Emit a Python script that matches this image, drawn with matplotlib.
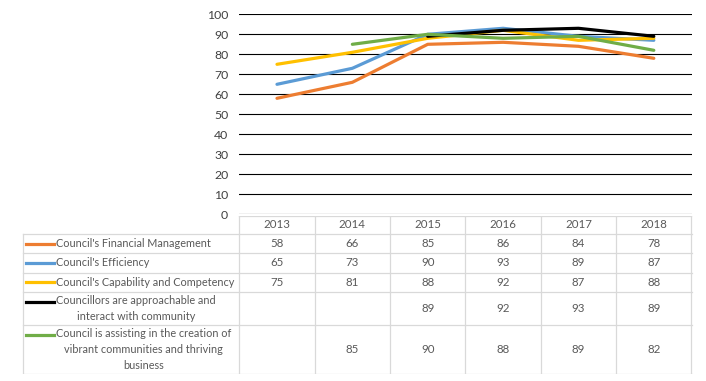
import numpy as np
import matplotlib.pyplot as plt
from matplotlib.transforms import blended_transform_factory

years = ['2013', '2014', '2015', '2016', '2017', '2018']
series_names = [
    "Council's Financial Management",
    "Council's Efficiency",
    "Council's Capability and Competency",
    "Councillors are approachable and\ninteract with community",
    "Council is assisting in the creation of\nvibrant communities and thriving\nbusiness",
]
financial = [58, 66, 85, 86, 84, 78]
efficiency = [65, 73, 90, 93, 89, 87]
capability = [75, 81, 88, 92, 87, 88]
approachable = [None, None, 89, 92, 93, 89]
vibrant = [None, 85, 90, 88, 89, 82]
colors = ['#ED7D31', '#5B9BD5', '#FFC000', '#000000', '#70AD47']

all_series = [financial, efficiency, capability, approachable, vibrant]

W, H = 706, 381
fig = plt.figure(figsize=(W / 100, H / 100), dpi=100)
plt.rcParams['font.family'] = ['Lato', 'DejaVu Sans']
txt_color = '#595959'
fs = 8.3
fs_lbl = 7.8


def px_box(x0, y0, x1, y1):
    # pixel box (top-left origin) -> figure fraction
    return [x0 / W, 1 - y1 / H, (x1 - x0) / W, (y1 - y0) / H]


ax = fig.add_axes(px_box(239.3, 14.3, 691.5, 214.3))
x = np.arange(len(years))
for vals, c in zip(all_series, colors):
    y = np.array([np.nan if v is None else v for v in vals], dtype=float)
    ax.plot(x, y, color=c, lw=2.3, solid_capstyle='round', zorder=3)

ax.set_xlim(-0.5, len(years) - 0.5)
ax.set_ylim(0, 100)
ax.set_yticks(range(0, 101, 10))
ax.yaxis.grid(True, color='black', lw=0.8)
ax.set_axisbelow(True)
ax.set_xticks([])
ax.tick_params(axis='y', length=0, pad=8, labelsize=fs + 0.5, labelcolor='#404040')
for s in ax.spines.values():
    s.set_visible(False)

# data table under the chart
tab = fig.add_axes(px_box(0, 216, W, 374))
tab.set_xlim(0, W)
tab.set_ylim(374, 216)
tab.axis('off')
bt = blended_transform_factory(ax.transData, tab.transData)

row_edges = [216, 234, 253, 272.6, 292.3, 325.3, 374]
line_c = '#D9D9D9'
lw_t = 0.9
left_px = 23
n = len(years)

# header row
tab.plot([-0.5, n - 0.5], [row_edges[0]] * 2, color=line_c, lw=lw_t, transform=bt)
for i in range(n + 1):
    tab.plot([i - 0.5] * 2, [row_edges[0], row_edges[-1]], color=line_c, lw=lw_t, transform=bt)
for i, yr in enumerate(years):
    tab.text(i, (row_edges[0] + row_edges[1]) / 2, yr, ha='center', va='center',
             fontsize=fs, color=txt_color, transform=bt)

# horizontal lines across full table
for ye in row_edges[1:]:
    tab.plot([left_px, 691.5], [ye, ye], color=line_c, lw=lw_t)
tab.plot([left_px, left_px], [row_edges[1], row_edges[-1]], color=line_c, lw=lw_t)

line_step = 14.5
for r, (name, vals, c) in enumerate(zip(series_names, all_series, colors)):
    y0, y1 = row_edges[r + 1], row_edges[r + 2]
    yc = (y0 + y1) / 2
    nlines = name.count('\n') + 1
    first_y = yc - (nlines - 1) / 2 * line_step
    tab.plot([26, 54], [first_y, first_y], color=c, lw=2.3)
    tab.text(56, yc, name, ha='left', va='center', multialignment='center',
             fontsize=fs_lbl, color=txt_color, linespacing=1.55)
    for i, v in enumerate(vals):
        if v is not None:
            tab.text(i, yc, str(v), ha='center', va='center', fontsize=fs,
                     color=txt_color, transform=bt)

fig.savefig('out.png', dpi=100)
